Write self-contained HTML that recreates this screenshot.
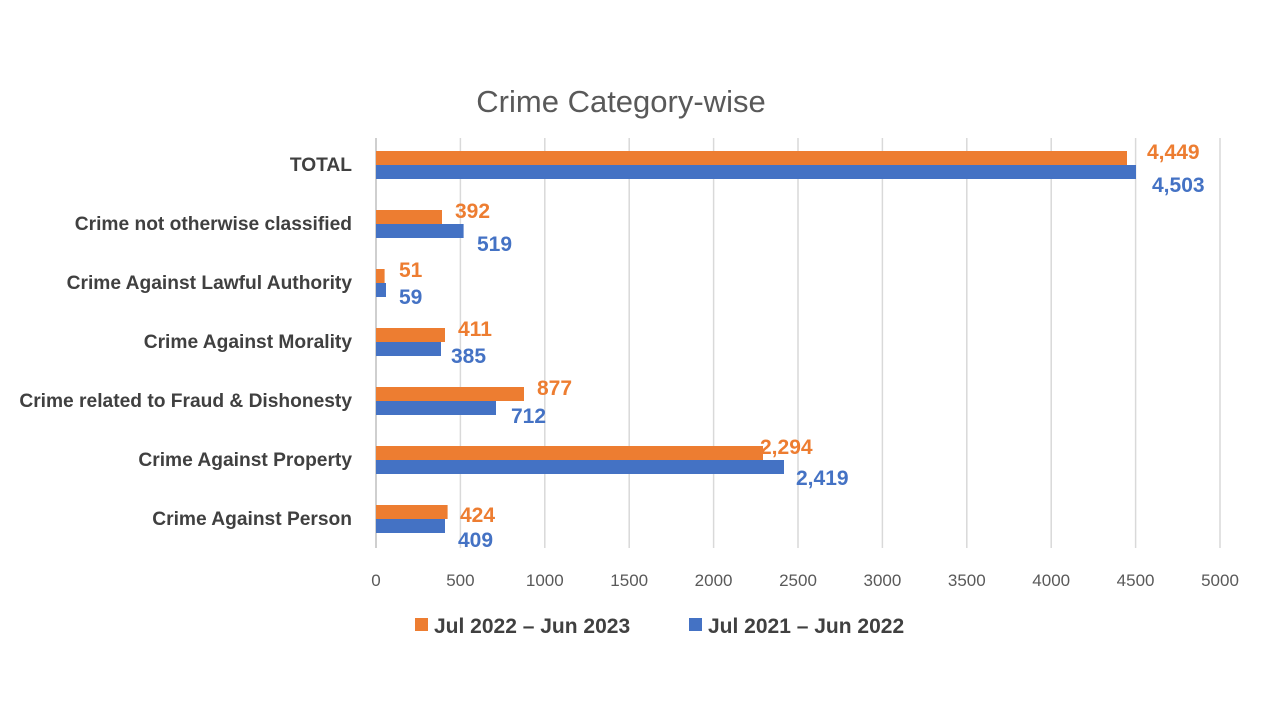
<!DOCTYPE html>
<html><head><meta charset="utf-8"><style>
body{margin:0;background:#fff;}
svg text{font-family:"Liberation Sans",Arial,sans-serif;}
</style></head><body>
<svg width="1280" height="720" xmlns="http://www.w3.org/2000/svg">
<rect width="1280" height="720" fill="#fff"/>
<text x="621" y="112" font-size="31" fill="#595959" text-anchor="middle">Crime Category-wise</text>
<g stroke="#d9d9d9" stroke-width="1.5">
<line x1="460.4" y1="138" x2="460.4" y2="548"/><line x1="544.8" y1="138" x2="544.8" y2="548"/>
<line x1="629.2" y1="138" x2="629.2" y2="548"/><line x1="713.6" y1="138" x2="713.6" y2="548"/>
<line x1="798" y1="138" x2="798" y2="548"/><line x1="882.4" y1="138" x2="882.4" y2="548"/>
<line x1="966.8" y1="138" x2="966.8" y2="548"/><line x1="1051.2" y1="138" x2="1051.2" y2="548"/>
<line x1="1135.6" y1="138" x2="1135.6" y2="548"/><line x1="1220" y1="138" x2="1220" y2="548"/>
</g>
<line x1="376" y1="138" x2="376" y2="548" stroke="#bfbfbf" stroke-width="1.5"/>
<g font-size="17" fill="#595959" text-anchor="middle">
<text x="376" y="586">0</text><text x="460.4" y="586">500</text><text x="544.8" y="586">1000</text>
<text x="629.2" y="586">1500</text><text x="713.6" y="586">2000</text><text x="798" y="586">2500</text>
<text x="882.4" y="586">3000</text><text x="966.8" y="586">3500</text><text x="1051.2" y="586">4000</text>
<text x="1135.6" y="586">4500</text><text x="1220" y="586">5000</text>
</g>
<g font-size="19.2" font-weight="bold" fill="#404040" text-anchor="end">
<text x="352" y="171">TOTAL</text>
<text x="352" y="230">Crime not otherwise classified</text>
<text x="352" y="289">Crime Against Lawful Authority</text>
<text x="352" y="348">Crime Against Morality</text>
<text x="352" y="407">Crime related to Fraud &amp; Dishonesty</text>
<text x="352" y="466">Crime Against Property</text>
<text x="352" y="525">Crime Against Person</text>
</g>
<g fill="#ED7D31">
<rect x="376" y="151" width="751" height="14"/>
<rect x="376" y="210" width="66" height="14"/>
<rect x="376" y="269" width="8.6" height="14"/>
<rect x="376" y="328" width="69" height="14"/>
<rect x="376" y="387" width="148" height="14"/>
<rect x="376" y="446" width="387" height="14"/>
<rect x="376" y="505" width="71.6" height="14"/>
</g>
<g fill="#4472C4">
<rect x="376" y="165" width="760" height="14"/>
<rect x="376" y="224" width="87.6" height="14"/>
<rect x="376" y="283" width="10" height="14"/>
<rect x="376" y="342" width="65" height="14"/>
<rect x="376" y="401" width="120" height="14"/>
<rect x="376" y="460" width="408" height="14"/>
<rect x="376" y="519" width="69" height="14"/>
</g>
<g font-size="21" font-weight="bold" fill="#ED7D31">
<text x="1147" y="159">4,449</text><text x="455" y="218">392</text><text x="399" y="277">51</text>
<text x="458" y="336">411</text><text x="537" y="395">877</text><text x="760" y="454">2,294</text>
<text x="460" y="522">424</text>
</g>
<g font-size="21" font-weight="bold" fill="#4472C4">
<text x="1152" y="192">4,503</text><text x="477" y="251">519</text><text x="399" y="304">59</text>
<text x="451" y="363">385</text><text x="511" y="423">712</text><text x="796" y="485">2,419</text>
<text x="458" y="547">409</text>
</g>
<rect x="415" y="618" width="13" height="13" fill="#ED7D31"/>
<text x="434" y="633" font-size="21" font-weight="bold" fill="#404040">Jul 2022 – Jun 2023</text>
<rect x="689" y="618" width="13" height="13" fill="#4472C4"/>
<text x="708" y="633" font-size="21" font-weight="bold" fill="#404040">Jul 2021 – Jun 2022</text>
</svg>
</body></html>
